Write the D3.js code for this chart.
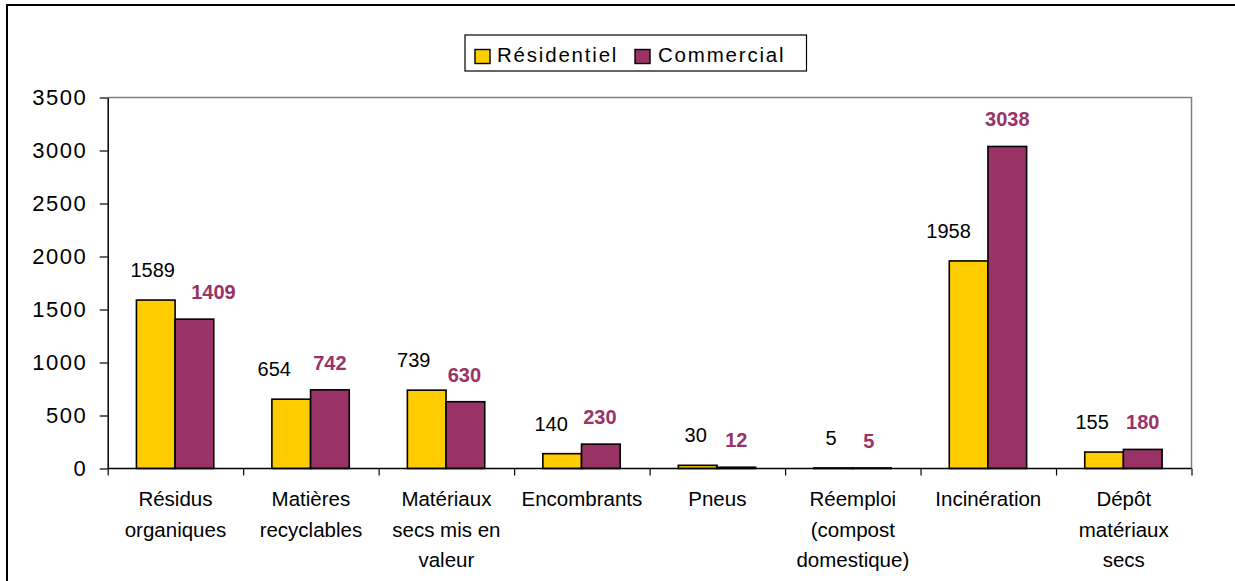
<!DOCTYPE html>
<html><head><meta charset="utf-8">
<script src="https://cdn.jsdelivr.net/npm/d3@7"></script>
<style>
html,body{margin:0;padding:0;background:#fff;}
svg text{font-family:"Liberation Sans",Arial,sans-serif;}
</style></head>
<body><svg id="c" width="1235" height="581"></svg>
<script>
// ---- data ----
const categories = [
  ["Résidus","organiques"],
  ["Matières","recyclables"],
  ["Matériaux","secs mis en","valeur"],
  ["Encombrants"],
  ["Pneus"],
  ["Réemploi","(compost","domestique)"],
  ["Incinération"],
  ["Dépôt","matériaux","secs"]
];
const seriesNames = ["Résidentiel","Commercial"];
const residentiel = [1589, 654, 739, 140, 30, 5, 1958, 155];
const commercial  = [1409, 742, 630, 230, 12, 5, 3038, 180];
const yTicks = [0, 500, 1000, 1500, 2000, 2500, 3000, 3500];
// label horizontal nudges (layout, px) as placed in the original
const nudgeRes = [-3, -17, -13, -11, -2, -2, -20, -12];
const nudgeCom = [19, 0, -1, -1, 0, -3, 0, 0];

const colors = {"Résidentiel":"#FFCC00","Commercial":"#993366"};

const svg = d3.select("#c");
const L = 107.7, R = 1191.5, T = 97.5, B = 468.5;

// outer frame
svg.append("rect").attr("x",7).attr("y",5).attr("width",1240).attr("height",600)
  .attr("fill","none").attr("stroke","#000").attr("stroke-width",2);

const catIdx = d3.range(categories.length);
const x0 = d3.scaleBand().domain(catIdx).range([L,R]).padding(0);
const bw = x0.bandwidth();
const x1 = d3.scaleBand().domain(seriesNames).range([bw*0.212, bw*0.783]).padding(0);
const y = d3.scaleLinear().domain([0,3500]).range([B,T]);

// plot border (gray top & right)
svg.append("path").attr("d",`M${L},${T}H${R}V${B}`).attr("fill","none")
  .attr("stroke","#808080").attr("stroke-width",1.5);

// bars
const rows = catIdx.map(i => ({i, vals:[
  {s:"Résidentiel", v:residentiel[i], n:nudgeRes[i]},
  {s:"Commercial", v:commercial[i], n:nudgeCom[i]}]}));
const g = svg.selectAll("g.cat").data(rows).join("g")
  .attr("transform", d => `translate(${x0(d.i)},0)`);
g.selectAll("rect").data(d => d.vals).join("rect")
  .attr("x", d => x1(d.s)).attr("width", x1.bandwidth())
  .attr("y", d => y(d.v)).attr("height", d => B - y(d.v))
  .attr("fill", d => colors[d.s]).attr("stroke","#000").attr("stroke-width",1.6);
g.selectAll("text.lbl").data(d => d.vals).join("text").attr("class","lbl")
  .attr("x", d => x1(d.s) + x1.bandwidth()/2 + d.n)
  .attr("y", d => y(d.v) - (d.s==="Résidentiel" ? 23 : 20))
  .attr("text-anchor","middle").attr("font-size",20)
  .attr("font-weight", d => d.s==="Commercial" ? "bold" : "normal")
  .attr("fill", d => d.s==="Commercial" ? "#993366" : "#000")
  .text(d => d.v);

// y axis
const yAxis = d3.axisLeft(y).tickValues(yTicks).tickFormat(d3.format("d"))
  .tickSize(8).tickPadding(14).tickSizeOuter(0);
const ya = svg.append("g").attr("transform",`translate(${L},0)`).call(yAxis);
ya.select(".domain").attr("stroke","#000").attr("stroke-width",1.5);
ya.selectAll(".tick line").attr("stroke","#000").attr("stroke-width",1.2);
ya.selectAll(".tick text").attr("font-size",22).attr("fill","#000")
  .attr("font-family","Liberation Sans, Arial, sans-serif")
  .style("letter-spacing","1.5px").attr("dx","1.5px");

// x axis with ticks at category boundaries
const xb = d3.scaleLinear().domain([0,categories.length]).range([L,R]);
const xa = svg.append("g").attr("transform",`translate(0,${B})`)
  .call(d3.axisBottom(xb).tickValues(d3.range(categories.length+1)).tickSize(7).tickFormat(""));
xa.select(".domain").attr("stroke","#000").attr("stroke-width",1.5).attr("d",`M${L},0H${R}`);
xa.selectAll(".tick line").attr("stroke","#000").attr("stroke-width",1.2);

// category labels
const cl = svg.selectAll("text.cat").data(catIdx).join("text").attr("class","cat")
  .attr("text-anchor","middle").attr("font-size",20.5).attr("fill","#000");
cl.each(function(i){
  const t = d3.select(this);
  categories[i].forEach((line,k) => {
    t.append("tspan").attr("x", x0(i) + bw/2).attr("y", 506 + k*30.5).text(line);
  });
});

// legend
const lg = svg.append("g");
lg.append("rect").attr("x",465).attr("y",35).attr("width",341.5).attr("height",36)
  .attr("fill","#fff").attr("stroke","#000").attr("stroke-width",1.2);
const legItems = [{s:"Résidentiel", sx:475, tx:497},{s:"Commercial", sx:635, tx:658}];
legItems.forEach(it => {
  lg.append("rect").attr("x",it.sx).attr("y",49.5).attr("width",15).attr("height",14)
    .attr("fill",colors[it.s]).attr("stroke","#000").attr("stroke-width",1.4);
  lg.append("text").attr("x",it.tx).attr("y",62).attr("font-size",20.5)
    .style("letter-spacing","1.8px").attr("fill","#000").text(it.s);
});
</script></body></html>
